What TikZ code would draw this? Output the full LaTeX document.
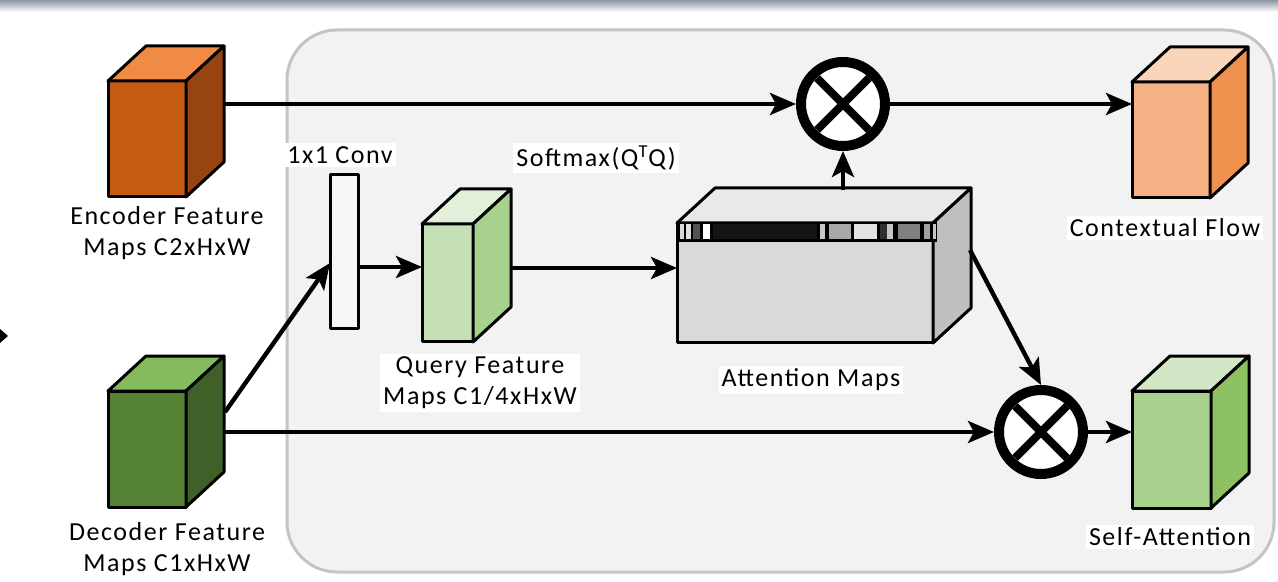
\documentclass[tikz,border=0pt]{standalone}
\usepackage{fontspec}
\setmainfont{Carlito}[LetterSpace=6]
\usetikzlibrary{arrows.meta,calc}
\definecolor{topbar}{HTML}{8C97A8}
\definecolor{panel}{HTML}{F2F2F2}
\definecolor{panelline}{HTML}{C4C4C4}
\definecolor{encF}{HTML}{C55A11}
\definecolor{encT}{HTML}{F08B46}
\definecolor{encS}{HTML}{974410}
\definecolor{decF}{HTML}{548235}
\definecolor{decT}{HTML}{83BB5E}
\definecolor{decS}{HTML}{3F6129}
\definecolor{ctxF}{HTML}{F4B183}
\definecolor{ctxT}{HTML}{FBD5B9}
\definecolor{ctxS}{HTML}{F0914F}
\definecolor{saF}{HTML}{A9D18E}
\definecolor{saT}{HTML}{D2E7C5}
\definecolor{saS}{HTML}{8DC164}
\definecolor{qF}{HTML}{C5E0B4}
\definecolor{qT}{HTML}{E2F0D9}
\definecolor{qS}{HTML}{A9D18E}
\definecolor{attF}{HTML}{D9D9D9}
\definecolor{attT}{HTML}{E9E9E9}
\definecolor{attS}{HTML}{BFBFBF}
\definecolor{convF}{HTML}{F7F7F7}
\tikzset{
  face/.style={draw=black, line width=1.5pt, line join=round},
  arr/.style={line width=2.2pt, -{Stealth[length=13pt,width=11pt,inset=3pt]}},
  lbl/.style={fill=white, inner sep=1.5pt, font=\fontsize{13}{15.5}\selectfont, align=center},
  mult/.style={circle, draw=black, fill=white, line width=5pt, minimum size=42pt, inner sep=0pt},
  xline/.style={line width=4pt},
}
% name, cx, cy, w, h (px), front, top, side
\newcommand\mkcube[8]{%
  \node[face, fill=#6, minimum width=#4*0.5pt, minimum height=#5*0.5pt, inner sep=0pt, outer sep=0pt] (#1) at (#2,#3) {};
  \draw[face, fill=#7] (#1.north west) -- ++(38,-35) -- ++(#4,0) -- (#1.north east) -- cycle;
  \draw[face, fill=#8] (#1.north east) -- ++(38,-35) -- ++(0,#5) -- (#1.south east) -- cycle;
}
\begin{document}
\begin{tikzpicture}[x=0.5pt,y=-0.5pt]
\useasboundingbox (0,0) rectangle (1278,582);
\fill[white] (0,0) rectangle (1278,582);
\shade[top color=topbar, bottom color=white] (0,0) rectangle (1278,12);
\draw[fill=panel, draw=panelline, line width=1.5pt, rounded corners=25pt] (287,30) rectangle (1274,572);
\fill[black] (0,329) -- (8,336) -- (0,343) -- cycle;

% cubes
\mkcube{enc}{147}{139}{78}{116}{encF}{encT}{encS}
\mkcube{dec}{147}{449}{78}{116}{decF}{decT}{decS}
\mkcube{ctx}{1171}{140}{78}{116}{ctxF}{ctxT}{ctxS}
\mkcube{sa}{1171.5}{449.5}{79}{117}{saF}{saT}{saS}
\mkcube{qry}{447.5}{283}{51}{118}{qF}{qT}{qS}
\mkcube{att}{805}{283}{256}{120}{attF}{attT}{attS}

% attention strip
\fill[black] (677,222) rectangle (937,242);
\foreach \a/\b/\c in {679.5/684/black!15, 686/690.5/black!12, 692.5/699.5/black!67,
  702.5/709.5/white, 712.5/816.5/black!92, 819.5/825/black!22, 828.5/850.5/black!34,
  854/876.5/black!11, 880/886.5/black!81, 887/893/black!22, 897.5/919.5/black!50,
  923.5/929.5/black!37, 933/935.5/black!22}
  \fill[\c] (\a,224.5) rectangle (\b,239.5);

% 1x1 conv
\node[face, fill=convF, minimum width=14pt, minimum height=77pt, inner sep=0pt, outer sep=0pt] (conv) at (344,252) {};

% multiply nodes
\node[mult] (m1) at (843,104) {};
\node[mult] (m2) at (1041,432) {};
\draw[xline] ($(m1)+(-26,-26)$) -- ($(m1)+(26,26)$);
\draw[xline] ($(m1)+(-26,26)$) -- ($(m1)+(26,-26)$);
\draw[xline] ($(m2)+(-26,-26)$) -- ($(m2)+(26,26)$);
\draw[xline] ($(m2)+(-26,26)$) -- ($(m2)+(26,-26)$);

% connectors
\coordinate (encout) at (224,104);
\draw[arr] (encout) -- (m1.west);
\draw[arr] (m1.east) -- (m1.east -| ctx.west);
\coordinate (atttop) at (843,190);
\draw[arr] (atttop) -- (m1.south);
\coordinate (decout) at (225,432);
\draw[arr] (decout) -- (m2.west);
\draw[arr] (m2.east) -- (m2.east -| sa.west);
\coordinate (attout) at (970,250);
\draw[arr] (attout) -- (m2.north);
\coordinate (decup) at (225,412);
\draw[arr] (decup) -- ($(conv.west)+(0,11)$);
\draw[arr] ($(conv.east)+(0,15)$) -- ($(qry.west)+(0,-16)$);
\coordinate (qout) at (511,268);
\draw[arr] (qout) -- (qout -| att.west);

% labels
\node[lbl] (tconv) at (340,155) {1x1 Conv};
\node[lbl] (tsoft) at (596,158) {Softmax(Q\textsuperscript{T}Q)};
\node[lbl] (tenc) at (167,233) {Encoder Feature\\Maps C2xHxW};
\node[lbl] (tdec) at (167,549) {Decoder Feature\\Maps C1xHxW};
\node[lbl] (tq) at (480,383) {Query Feature\\Maps C1/4xHxW};
\node[lbl] (tatt) at (811,380) {Attention Maps};
\node[lbl] (tctx) at (1165,228) {Contextual Flow};
\node[lbl] (tsa) at (1170,537) {Self-Attention};
\end{tikzpicture}
\end{document}
